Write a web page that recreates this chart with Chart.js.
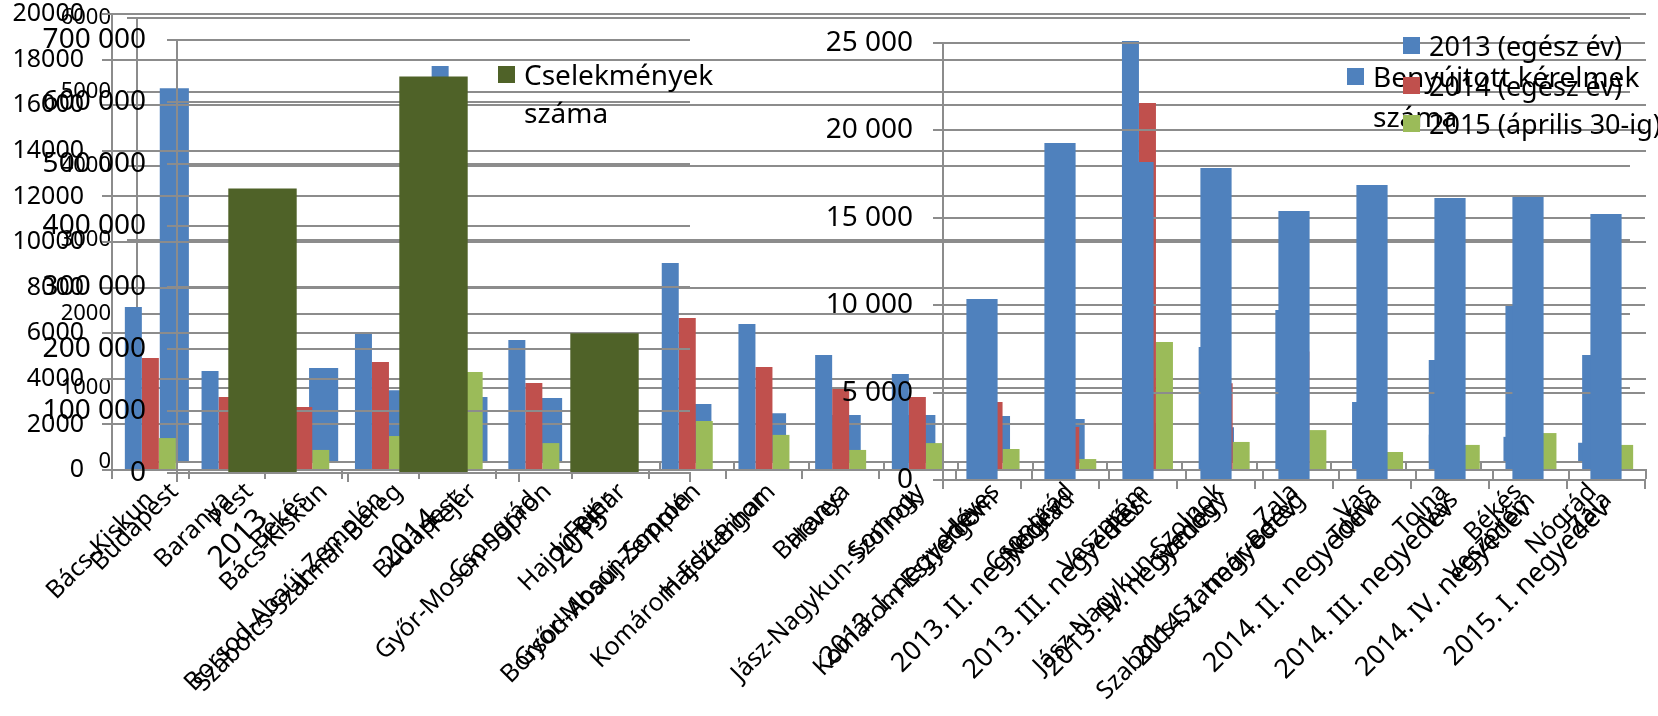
<!DOCTYPE html>
<html lang="hu">
<head>
<meta charset="utf-8">
<script src="https://cdn.jsdelivr.net/npm/chart.js@4.4.1/dist/chart.umd.min.js"></script>
<style>
  html, body { margin: 0; padding: 0; background: #fff; }
  #stage { position: relative; width: 1658px; height: 716px; overflow: hidden; }
  #stage canvas { position: absolute; left: 0; top: 0; }
  .leg { position: absolute; font-family: "Noto Sans", sans-serif; color: #000; font-size: 27px; white-space: nowrap; }
  .box { position: absolute; width: 17px; height: 17px; }
</style>
</head>
<body>
<div id="stage">
  <canvas id="sorrend" width="1658" height="716" style="z-index:1"></canvas>
  <canvas id="megyek" width="1658" height="716" style="z-index:2"></canvas>
  <canvas id="negyedev" width="1658" height="716" style="z-index:3"></canvas>
  <canvas id="cselekmeny" width="1658" height="716" style="z-index:4"></canvas>
</div>
<script>
// megyék ábécérendben, 2013-2015
const megyek = ["Bács-Kiskun", "Baranya", "Békés", "Borsod-Abaúj-Zemplén", "Budapest", "Csongrád",
  "Fejér", "Győr-Moson-Sopron", "Hajdú-Bihar", "Heves", "Jász-Nagykun-Szolnok", "Komárom-Esztergom",
  "Nógrád", "Pest", "Somogy", "Szabolcs-Szatmár-Bereg", "Tolna", "Vas", "Veszprém", "Zala"];
const ev2013 = [7150, 4340, 3800, 5970, 17720, 5700, 5000, 9080, 6400, 5040, 4210, 4300, 2500, 18820, 5400, 7020, 2980, 4830, 7240, 5040];
const ev2014 = [4910, 3200, 2760, 4740, 13500, 3820, 3600, 6670, 4520, 3550, 3200, 2980, 1890, 16100, 3800, 5200, 2200, 3500, 5000, 3600];
const ev2015 = [1400, 1000, 880, 1490, 4300, 1180, 1200, 2150, 1540, 880, 1180, 920, 480, 5610, 1230, 1750, 790, 1100, 1620, 1100];
const evSorozat = ["2013 (egész év)", "2014 (egész év)", "2015 (április 30-ig)"];

// megyék nagyság szerint
const sorrendMegyek = ["Budapest", "Pest", "Bács-Kiskun", "Szabolcs-Szatmár-Bereg", "Fejér", "Győr-Moson-Sopron",
  "Hajdú-Bihar", "Borsod-Abaúj-Zemplén", "Komárom-Esztergom", "Baranya", "Somogy", "Heves", "Csongrád",
  "Veszprém", "Jász-Nagykun-Szolnok", "Zala", "Vas", "Tolna", "Békés", "Nógrád"];
const sorrendErtek = [5050, 1800, 1270, 970, 880, 865, 800, 785, 660, 635, 635, 620, 580, 500, 470, 430, 400, 370, 340, 260];

// cselekmények száma
const evek = ["2013", "2014", "2015"];
const cselekmenyek = [460000, 641000, 226000];
const cselekmenyCimke = "Cselekmények száma";

// benyújtott kérelmek negyedévenként
const negyedevek = ["2013. I. negyedév", "2013. II. negyedév", "2013. III. negyedév", "2013. IV. negyedév",
  "2014. I. negyedév", "2014. II. negyedév", "2014. III. negyedév", "2014. IV. negyedév", "2015. I. negyedév"];
const kerelmek = [10360, 19280, 18190, 17850, 15390, 16880, 16130, 16190, 15220];
const kerelemCimke = "Benyújtott kérelmek száma";

const kek = "#4F81BD", piros = "#C0504D", zold = "#9BBB59", sotetZold = "#4F6228";
const racs = "#8c8c8c";
const betu = "'Noto Sans', sans-serif";
const W = 1658, H = 716;

const ezres = (v) => String(v).replace(/\B(?=(\d{3})+(?!\d))/g, " ");

function nullPad(s) {
  s.paddingTop = 0; s.paddingBottom = 0; s.paddingLeft = 0; s.paddingRight = 0;
}

function layer(id, o) {
  return new Chart(document.getElementById(id), {
    type: "bar",
    data: { labels: o.labels, datasets: o.datasets },
    options: {
      responsive: false,
      animation: false,
      devicePixelRatio: 1,
      layout: { padding: { left: 0, top: o.top, right: W - o.right, bottom: 0 } },
      plugins: { legend: { display: false }, tooltip: { enabled: false } },
      datasets: { bar: { categoryPercentage: o.cat, barPercentage: 1, borderWidth: 0 } },
      scales: {
        x: {
          grid: { drawOnChartArea: false, tickLength: 9, color: racs, lineWidth: 2 },
          border: { color: racs, width: 2 },
          ticks: {
            autoSkip: false, maxRotation: 45, minRotation: 45, color: "#000", padding: o.xPad,
            font: { family: betu, size: o.xSize, lineHeight: 1 }
          },
          afterFit: (s) => { s.height = H - o.bottom; nullPad(s); }
        },
        y: {
          min: 0, max: o.max,
          grid: { tickLength: 10, color: racs, lineWidth: 2 },
          border: { color: racs, width: 2 },
          ticks: {
            stepSize: o.step, color: "#000", padding: o.yPad,
            font: { family: betu, size: o.ySize, lineHeight: 1 },
            callback: o.fmt
          },
          afterFit: (s) => { s.width = o.left; nullPad(s); }
        }
      }
    }
  });
}

layer("sorrend", {
  labels: sorrendMegyek,
  datasets: [{ label: kerelemCimke, data: sorrendErtek, backgroundColor: kek }],
  left: 137, right: 1630, top: 18, bottom: 462, max: 6000, step: 1000,
  cat: 0.39, xSize: 25, xPad: 8, ySize: 22, yPad: 16, fmt: (v) => String(v)
});

layer("megyek", {
  labels: megyek,
  datasets: [
    { label: evSorozat[0], data: ev2013, backgroundColor: kek },
    { label: evSorozat[1], data: ev2014, backgroundColor: piros },
    { label: evSorozat[2], data: ev2015, backgroundColor: zold }
  ],
  left: 112, right: 1646, top: 14, bottom: 470, max: 20000, step: 2000,
  cat: 0.665, xSize: 25, xPad: 8, ySize: 25, yPad: 18, fmt: (v) => String(v)
});

layer("negyedev", {
  labels: negyedevek,
  datasets: [{ label: kerelemCimke, data: kerelmek, backgroundColor: kek }],
  left: 943, right: 1645, top: 43, bottom: 480, max: 25000, step: 5000,
  cat: 0.4, xSize: 27, xPad: 6, ySize: 28, yPad: 20, fmt: ezres
});

layer("cselekmeny", {
  labels: evek,
  datasets: [{ label: cselekmenyCimke, data: cselekmenyek, backgroundColor: sotetZold }],
  left: 177, right: 690, top: 40, bottom: 473, max: 700000, step: 100000,
  cat: 0.4, xSize: 30, xPad: 22, ySize: 28, yPad: 21, fmt: ezres
});

// jelmagyarázatok
const stage = document.getElementById("stage");
function legend(x, y, color, text, width, lineH, size) {
  const b = document.createElement("div");
  b.className = "box";
  b.style.cssText = `left:${x}px;top:${y}px;background:${color};z-index:5`;
  stage.appendChild(b);
  const t = document.createElement("div");
  t.className = "leg";
  t.textContent = text;
  t.style.cssText = `left:${x + 26}px;top:${y + 8 - lineH / 2}px;line-height:${lineH}px;font-size:${size}px;z-index:5;` +
    (width ? `white-space:normal;width:${width}px;` : "");
  stage.appendChild(t);
}
legend(498, 66, sotetZold, cselekmenyCimke, 200, 38, 28);
legend(1347, 68, kek, kerelemCimke, 285, 40, 28);
legend(1403, 37, kek, evSorozat[0], 0, 39, 27);
legend(1403, 77, piros, evSorozat[1], 0, 39, 27);
legend(1403, 115, zold, evSorozat[2], 0, 39, 27);
</script>
</body>
</html>
